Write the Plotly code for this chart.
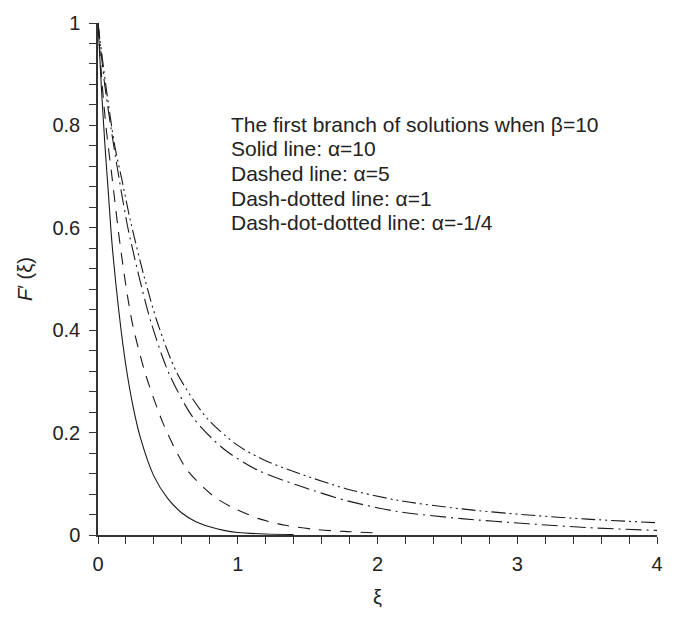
import plotly.graph_objects as go

# alpha = 10 (solid)
solid_x = [0, 0.025, 0.05, 0.075, 0.1, 0.15, 0.2, 0.25, 0.3, 0.4, 0.5, 0.6, 0.7, 0.8, 0.9, 1.0, 1.2, 1.4]
solid_y = [1, 0.87, 0.76, 0.665, 0.57, 0.435, 0.33, 0.252, 0.193, 0.115, 0.071, 0.043, 0.026, 0.016, 0.009, 0.005, 0.002, 0.001]

# alpha = 5 (dashed)
dashed_x = [0, 0.03, 0.06, 0.1, 0.153, 0.212, 0.25, 0.34, 0.46, 0.57, 0.64, 0.77, 0.84, 0.96, 1.15, 1.34, 1.55, 1.76, 2.0]
dashed_y = [1, 0.88, 0.79, 0.70, 0.578, 0.465, 0.408, 0.314, 0.222, 0.158, 0.126, 0.089, 0.073, 0.054, 0.032, 0.019, 0.011, 0.007, 0.004]

# alpha = 1 (dash-dotted)
dashdot_x = [0, 0.05, 0.11, 0.153, 0.21, 0.295, 0.38, 0.507, 0.684, 0.9, 1.147, 1.43, 1.78, 2.14, 2.6, 3.08, 3.5, 4.0]
dashdot_y = [1, 0.875, 0.765, 0.693, 0.605, 0.503, 0.415, 0.316, 0.228, 0.168, 0.126, 0.097, 0.067, 0.046, 0.032, 0.022, 0.0145, 0.009]

# alpha = -1/4 (dash-dot-dotted)
ddot_x = [0, 0.055, 0.12, 0.17, 0.235, 0.33, 0.425, 0.566, 0.78, 1.0, 1.2, 1.41, 1.78, 2.14, 2.6, 3.08, 3.5, 4.0]
ddot_y = [1, 0.88, 0.76, 0.695, 0.61, 0.505, 0.415, 0.316, 0.228, 0.175, 0.145, 0.123, 0.09, 0.068, 0.051, 0.039, 0.031, 0.024]

x_ticks = [0, 1, 2, 3, 4]
y_ticks = [0, 0.2, 0.4, 0.6, 0.8, 1]

note_lines = [
    "The first branch of solutions when β=10",
    "Solid line: α=10",
    "Dashed line: α=5",
    "Dash-dotted line: α=1",
    "Dash-dot-dotted line: α=-1/4",
]

FONT = "Liberation Sans, Arial, sans-serif"
LC = "#1a1a1a"
TXT = "#222"

fig = go.Figure()
series = [
    (solid_x, solid_y, "solid"),
    (dashed_x, dashed_y, "12px,9px"),
    (dashdot_x, dashdot_y, "16px,5px,2px,5px"),
    (ddot_x, ddot_y, "14px,4px,2px,4px,2px,4px"),
]
for xs, ys, dash in series:
    fig.add_trace(go.Scatter(x=xs, y=ys, mode="lines",
                             line=dict(color=LC, width=1.1, dash=dash, shape="spline", smoothing=0.8),
                             showlegend=False, hoverinfo="skip"))

# note block: plot area spans 98..663 px horizontally, 16..547 px vertically
plot_w, plot_h = 565.0, 531.0
note_left_px = 230 - 98
first_line_px = 547 - 121
line_step_px = 25.5
for i, line in enumerate(note_lines):
    fig.add_annotation(x=note_left_px / plot_w, y=(first_line_px - i * line_step_px) / plot_h,
                       xref="paper", yref="paper", xanchor="left", yanchor="middle",
                       align="left", showarrow=False, text=line,
                       font=dict(family=FONT, size=21, color=TXT))

axis_common = dict(showgrid=False, zeroline=False, showline=True, linecolor="#333", linewidth=1.5,
                   ticks="outside", ticklen=7, tickwidth=1.3, tickcolor="#333",
                   tickfont=dict(family=FONT, size=20, color=TXT))

fig.update_xaxes(range=[0, 4], tickvals=x_ticks, ticktext=[str(v) for v in x_ticks],
                 minor=dict(dtick=0.2, ticks="outside", ticklen=7, tickwidth=1.3, tickcolor="#333"),
                 ticklabelstandoff=3,
                 title=dict(text="ξ", font=dict(family=FONT, size=20, color=TXT), standoff=16),
                 **axis_common)
fig.update_yaxes(range=[0, 1], tickvals=y_ticks, ticktext=[("%g" % v) for v in y_ticks],
                 minor=dict(dtick=0.04, ticks="outside", ticklen=7, tickwidth=1.3, tickcolor="#333"),
                 ticklabelstandoff=5,
                 title=dict(text="<i>F</i>′ (ξ)", font=dict(family=FONT, size=20, color=TXT), standoff=14),
                 **axis_common)

fig.update_layout(width=675, height=617, margin=dict(l=98, r=12, t=16, b=70),
                  plot_bgcolor="white", paper_bgcolor="white")

fig.write_html("out.html")
